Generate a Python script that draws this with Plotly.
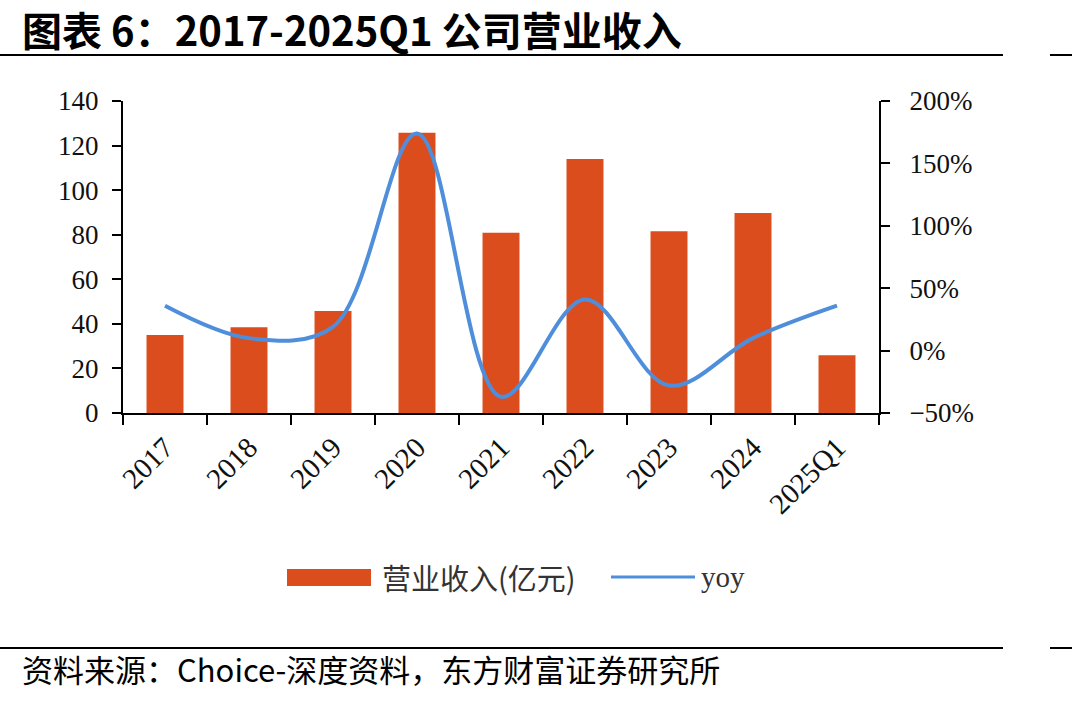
import plotly.graph_objects as go

# ---- data ----
categories = ["2017", "2018", "2019", "2020", "2021", "2022", "2023", "2024", "2025Q1"]
revenue = [35.0, 38.5, 45.8, 125.8, 80.9, 114.0, 81.6, 89.7, 25.9]   # 亿元
yoy = [0.36, 0.10, 0.19, 1.74, -0.37, 0.41, -0.28, 0.10, 0.36]
left_ticks = [0, 20, 40, 60, 80, 100, 120, 140]
right_ticks = [-0.5, 0.0, 0.5, 1.0, 1.5, 2.0]
legend_names = ["营业收入(亿元)", "yoy"]
title_text = "图表 6：2017-2025Q1 公司营业收入"
source_text = "资料来源：Choice-深度资料，东方财富证券研究所"

# ---- style ----
W, H = 1072, 702
L, R, T, B = 123, 879, 101, 413
BAR_C = "#DC4D1E"
LINE_C = "#4E8EDB"
SERIF = "Liberation Serif, Times New Roman, serif"
CJK = "Noto Sans CJK SC, sans-serif"


def px(x):
    return (x - L) / (R - L)


def py(y):
    return (B - y) / (B - T)


fig = go.Figure()
fig.add_trace(go.Bar(x=categories, y=revenue, name=legend_names[0],
                     marker=dict(color=BAR_C, line=dict(width=0)),
                     showlegend=False))
fig.add_trace(go.Scatter(x=categories, y=yoy, name=legend_names[1], yaxis="y2",
                         mode="lines", line=dict(color=LINE_C, width=4, shape="spline", smoothing=1.0),
                         showlegend=False))

axis_common = dict(showgrid=False, zeroline=False, showline=True, linecolor="black", linewidth=2,
                   ticks="outside", ticklen=9, tickwidth=2, tickcolor="black",
                   tickfont=dict(family=SERIF, size=27, color="#111"))

fig.update_layout(
    width=W, height=H,
    margin=dict(l=L, r=W - R, t=T, b=H - B, pad=0),
    paper_bgcolor="white", plot_bgcolor="white",
    bargap=0.56,
    xaxis=dict(type="category", tickson="boundaries", tickangle=-45, ticklen=10, range=[-0.5, 8.5],
               showgrid=False, zeroline=False, showline=True, linecolor="black", linewidth=2,
               ticks="outside", tickwidth=2, tickcolor="black", ticklabelstandoff=4,
               tickfont=dict(family=SERIF, size=29, color="#111")),
    yaxis=dict(range=[0, 140], tickvals=left_ticks, ticklabelstandoff=8, **axis_common),
    yaxis2=dict(range=[-0.5, 2.0], tickvals=right_ticks, tickformat=".0%", overlaying="y", side="right",
                ticklabelstandoff=14, **axis_common),
)

shapes = []
# header / footer rules
for yy in (55, 648):
    shapes.append(dict(type="line", xref="paper", yref="paper", x0=px(0), x1=px(1003), y0=py(yy), y1=py(yy),
                       line=dict(color="black", width=2)))
    shapes.append(dict(type="line", xref="paper", yref="paper", x0=px(1050), x1=px(1072), y0=py(yy), y1=py(yy),
                       line=dict(color="black", width=2)))
# legend swatches
shapes.append(dict(type="rect", xref="paper", yref="paper", x0=px(287), x1=px(371), y0=py(586), y1=py(569),
                   fillcolor=BAR_C, line=dict(width=0)))
shapes.append(dict(type="line", xref="paper", yref="paper", x0=px(611), x1=px(695), y0=py(577), y1=py(577),
                   line=dict(color=LINE_C, width=3)))
fig.update_layout(shapes=shapes)

annotations = [
    dict(text="<b>" + title_text + "</b>", xref="paper", yref="paper", x=px(20), y=py(29),
         xanchor="left", yanchor="middle", showarrow=False,
         font=dict(family=CJK, size=40, color="black")),
    dict(text=source_text, xref="paper", yref="paper", x=px(20), y=py(668),
         xanchor="left", yanchor="middle", showarrow=False,
         font=dict(family=CJK, size=31, color="black")),
    dict(text=legend_names[0], xref="paper", yref="paper", x=px(380), y=py(577),
         xanchor="left", yanchor="middle", showarrow=False,
         font=dict(family=CJK, size=29, color="#333")),
    dict(text=legend_names[1], xref="paper", yref="paper", x=px(699), y=py(577),
         xanchor="left", yanchor="middle", showarrow=False,
         font=dict(family=SERIF, size=29, color="#333")),
]
fig.update_layout(annotations=annotations)

fig.write_html("out.html")
